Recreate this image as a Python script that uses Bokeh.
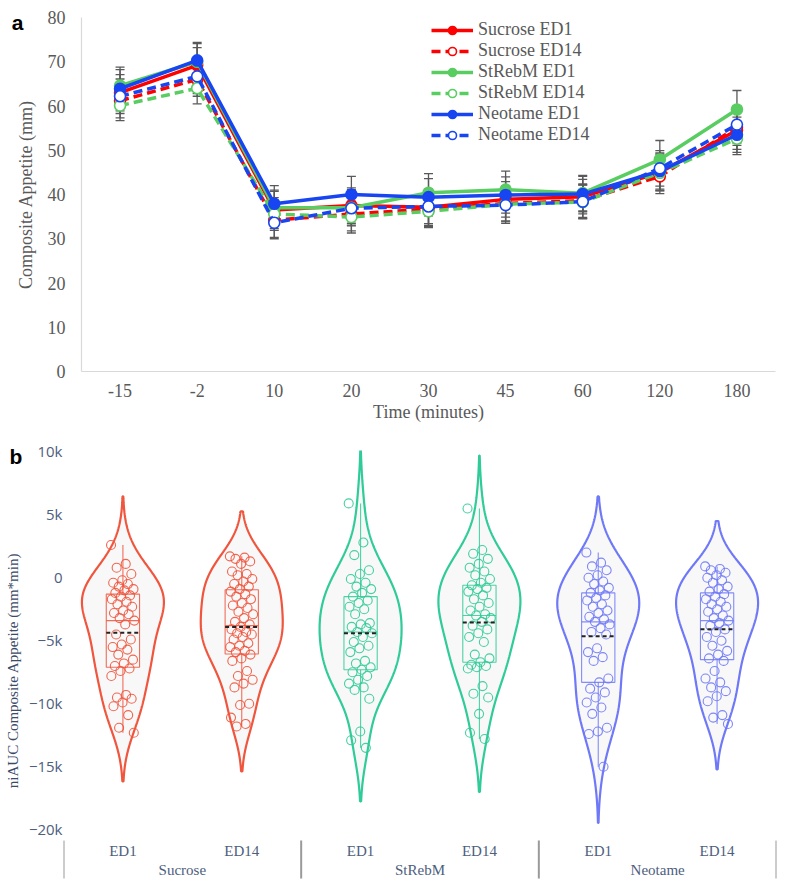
import numpy as np
from bokeh.plotting import figure
from bokeh.models import (ColumnDataSource, FactorRange, Range1d, FixedTicker,
                          Whisker, TeeHead, Legend, LegendItem, Label)
from bokeh.layouts import column
from bokeh.embed import file_html
from bokeh.resources import INLINE
from bokeh.core.properties import value

# ---------------- Panel a data ----------------
time_labels = ["-15", "-2", "10", "20", "30", "45", "60", "120", "180"]
series_names = ["Sucrose ED1", "Sucrose ED14", "StRebM ED1", "StRebM ED14",
                "Neotame ED1", "Neotame ED14"]
sucrose_ed1 = [63.0, 69.2, 36.5, 37.5, 37.1, 38.9, 39.5, 45.0, 54.5]
sucrose_ed14 = [61.2, 66.0, 34.2, 35.6, 36.7, 38.0, 38.6, 44.1, 55.2]
strebm_ed1 = [64.6, 70.0, 37.0, 37.0, 40.4, 41.1, 40.3, 47.9, 59.2]
strebm_ed14 = [60.1, 64.0, 35.6, 34.9, 36.2, 37.8, 38.3, 44.9, 52.6]
neotame_ed1 = [63.9, 70.3, 37.9, 40.0, 39.4, 39.9, 40.1, 45.3, 53.5]
neotame_ed14 = [62.2, 66.7, 33.6, 36.9, 37.3, 37.6, 38.4, 45.9, 55.8]
sucrose_ed1_se = [4.1, 4.0, 4.2, 4.0, 4.1, 4.0, 3.9, 4.2, 4.3]
sucrose_ed14_se = [3.9, 3.8, 3.9, 3.8, 3.9, 4.0, 3.8, 3.9, 4.1]
strebm_ed1_se = [4.2, 4.1, 4.0, 4.1, 4.3, 4.2, 4.0, 4.3, 4.3]
strebm_ed14_se = [3.4, 3.5, 3.7, 3.6, 3.7, 3.8, 3.8, 4.0, 3.6]
neotame_ed1_se = [4.3, 4.1, 4.1, 4.1, 4.2, 4.1, 4.0, 4.1, 4.0]
neotame_ed14_se = [3.9, 3.9, 3.6, 3.8, 3.9, 4.1, 3.8, 4.0, 4.2]
appetite_yticks = [0, 10, 20, 30, 40, 50, 60, 70, 80]

# ---------------- Panel b data (thousands of mm*min) ----------------
groups = ["Sucrose", "StRebM", "Neotame"]
days = ["ED1", "ED14"]
sucrose_ed1_auc = [2.5, 1.0, 0.7, 0.2, -0.3, -0.5, -0.6, -0.8, -1.0, -1.1, -1.3, -1.5,
                   -1.6, -1.8, -2.0, -2.2, -2.4, -2.7, -2.9, -3.0, -3.3, -3.5, -3.8,
                   -4.6, -5.0, -5.4, -5.6, -5.8, -6.2, -6.6, -6.9, -7.1, -7.3, -7.5,
                   -7.9, -9.4, -9.6, -9.7, -10.0, -10.3, -11.0, -12.0, -12.4]
sucrose_ed14_auc = [1.6, 1.5, 1.4, 1.2, 1.0, 0.4, 0.2, 0.1, -0.2, -0.4, -0.6, -0.8,
                    -1.0, -1.2, -1.4, -1.6, -1.8, -2.1, -2.3, -2.5, -2.8, -3.0, -3.3,
                    -3.6, -3.8, -4.0, -4.2, -4.4, -4.5, -4.6, -4.8, -5.0, -5.3, -5.5,
                    -5.6, -5.9, -6.0, -6.2, -6.5, -6.7, -7.5, -7.9, -8.2, -8.5, -8.8,
                    -10.1, -10.2, -11.2, -11.7, -11.9]
strebm_ed1_auc = [5.8, 2.7, 1.7, 0.5, 0.2, -0.2, -0.5, -0.8, -1.0, -1.3, -1.6, -1.9,
                  -2.1, -2.4, -2.6, -3.0, -3.7, -3.8, -4.0, -4.1, -4.4, -4.5, -4.8,
                  -5.2, -5.5, -5.7, -6.0, -6.7, -6.9, -7.2, -7.4, -7.6, -7.9, -8.2,
                  -8.5, -8.8, -9.0, -9.7, -12.3, -13.0, -13.6]
strebm_ed14_auc = [5.4, 2.1, 1.8, 1.4, 1.0, 0.7, 0.4, 0.1, -0.2, -0.5, -0.7, -0.9,
                   -1.0, -1.2, -1.5, -1.8, -2.1, -2.4, -2.7, -3.0, -3.1, -3.3, -3.6,
                   -3.9, -4.2, -4.5, -4.8, -5.2, -6.2, -6.5, -6.8, -7.0, -7.1, -7.2,
                   -7.3, -8.7, -9.3, -9.6, -10.9, -12.4, -12.9]
neotame_ed1_auc = [1.9, 1.1, 0.8, 0.5, 0.1, -0.1, -0.4, -0.6, -0.9, -1.1, -1.3, -1.5,
                   -1.7, -1.9, -2.2, -2.4, -2.7, -2.9, -3.2, -3.4, -3.6, -3.8, -4.1,
                   -4.4, -4.6, -5.7, -6.0, -6.4, -6.7, -8.1, -8.4, -8.9, -9.2, -9.6,
                   -10.0, -10.4, -10.9, -12.0, -12.3, -12.5, -15.1]
neotame_ed14_auc = [0.8, 0.6, 0.5, 0.3, 0.1, -0.1, -0.3, -0.5, -0.8, -1.0, -1.2, -1.4,
                    -1.6, -1.8, -2.0, -2.2, -2.4, -2.6, -2.8, -3.1, -3.3, -3.5, -3.7,
                    -3.9, -4.2, -4.4, -4.8, -5.1, -5.5, -5.9, -6.2, -6.5, -6.7, -7.5,
                    -8.1, -8.4, -8.8, -9.1, -9.5, -9.9, -11.0, -11.2, -11.7]
auc_yticks = [-20, -15, -10, -5, 0, 5, 10]
auc_ytick_labels = ["\u221220k", "\u221215k", "\u221210k", "\u22125k", "0", "5k", "10k"]

# ---------------- styles ----------------
SERIF = "Liberation Serif"
GREY = "#595959"
AXIS_LINE = "#d9d9d9"
line_colors = {"Sucrose": "#FF0000", "StRebM": "#5ACD62", "Neotame": "#1845F2"}
violin_colors = {"Sucrose": "#F0553D", "StRebM": "#2FCB98", "Neotame": "#6F79F7"}
AX_TXT = "#4d5e7e"


def no_frame_align(p):
    try:
        p.frame_align = False
    except Exception:
        pass


# ================= Panel a =================
p1 = figure(width=787, height=425,
            x_range=FactorRange(factors=time_labels, range_padding=0),
            y_range=Range1d(0, 80),
            output_backend="svg", toolbar_location=None,
            min_border_left=79, min_border_right=12, min_border_top=17,
            min_border_bottom=54)
no_frame_align(p1)
p1.outline_line_color = None
p1.xgrid.visible = False
p1.ygrid.visible = False

for ax in (p1.xaxis[0], p1.yaxis[0]):
    ax.axis_line_color = AXIS_LINE
    ax.axis_line_width = 1.2
    ax.major_tick_line_color = None
    ax.minor_tick_line_color = None
    ax.major_tick_out = 0
    ax.major_tick_in = 0
    ax.major_label_text_font = SERIF
    ax.major_label_text_font_size = "18px"
    ax.major_label_text_color = GREY
    ax.axis_label_text_font = SERIF
    ax.axis_label_text_font_size = "18px"
    ax.axis_label_text_font_style = "normal"
    ax.axis_label_text_color = GREY

p1.yaxis.ticker = FixedTicker(ticks=appetite_yticks)
p1.yaxis.major_label_standoff = 16
p1.yaxis.axis_label = "Composite Appetite (mm)"
p1.yaxis.axis_label_standoff = 9
p1.xaxis.major_label_standoff = 12
p1.xaxis.axis_label = "Time (minutes)"
p1.xaxis.axis_label_standoff = 2

all_vals = [sucrose_ed1, sucrose_ed14, strebm_ed1, strebm_ed14, neotame_ed1, neotame_ed14]
all_se = [sucrose_ed1_se, sucrose_ed14_se, strebm_ed1_se, strebm_ed14_se,
          neotame_ed1_se, neotame_ed14_se]

items = []
for name, vals, se in zip(series_names, all_vals, all_se):
    grp, day = name.split(" ")
    c = line_colors[grp]
    v = np.array(vals)
    e = np.array(se)
    src = ColumnDataSource(dict(t=time_labels, y=vals, upper=list(v + e), lower=list(v - e)))
    p1.add_layout(Whisker(source=src, base="t", upper="upper", lower="lower",
                          line_color=GREY, line_width=1.3, level="underlay",
                          upper_head=TeeHead(size=9, line_color=GREY, line_width=1.3),
                          lower_head=TeeHead(size=9, line_color=GREY, line_width=1.3)))
    dash = "solid" if day == "ED1" else "9 5"
    rl = p1.line("t", "y", source=src, line_color=c, line_width=3.5, line_dash=dash)
    rm = p1.scatter("t", "y", source=src, marker="circle", size=11,
                    fill_color=c if day == "ED1" else "white",
                    line_color=c, line_width=1.6)
    items.append(LegendItem(label=name, renderers=[rl, rm]))

legend = Legend(items=items, location=(350, 226), orientation="vertical",
                glyph_width=42, glyph_height=20, label_height=20, label_standoff=5,
                spacing=0, padding=0, margin=0, border_line_color=None,
                background_fill_alpha=0,
                label_text_font=SERIF, label_text_font_size="18px",
                label_text_color=GREY)
p1.add_layout(legend)
p1.add_layout(Label(x=-0.905, y=78.87, text="a",
                    text_font="Liberation Sans", text_font_style="bold",
                    text_font_size="21px", text_baseline="alphabetic",
                    text_color="black"), "left")

# ================= Panel b =================
factors = [(g, d) for g in groups for d in days]
p2 = figure(width=787, height=465,
            x_range=FactorRange(factors=factors, range_padding=0, group_padding=0,
                                factor_padding=0, subgroup_padding=0),
            y_range=Range1d(-24.92, 10.0), x_axis_location=None,
            output_backend="svg", toolbar_location=None,
            min_border_left=63, min_border_right=11, min_border_top=25,
            min_border_bottom=0)
no_frame_align(p2)
p2.outline_line_color = None
p2.xgrid.visible = False
p2.ygrid.visible = False

ya = p2.yaxis[0]
ya.ticker = FixedTicker(ticks=auc_yticks)
ya.major_label_overrides = dict(zip(auc_yticks, auc_ytick_labels))
ya.axis_line_color = None
ya.major_tick_line_color = None
ya.minor_tick_line_color = None
ya.major_tick_out = 0
ya.major_tick_in = 0
ya.major_label_standoff = 1
ya.major_label_text_font = "Open Sans"
ya.major_label_text_font_size = "15px"
ya.major_label_text_color = AX_TXT
ya.axis_label = "niAUC Composite Appetite (mm*min)"
ya.axis_label_text_font = SERIF
ya.axis_label_text_font_size = "15px"
ya.axis_label_text_font_style = "normal"
ya.axis_label_text_color = "#3a4a68"
ya.axis_label_standoff = 5

HALF_W = 0.345
BOX_HW = 0.14
JIT = 0.1
auc_series = [sucrose_ed1_auc, sucrose_ed14_auc, strebm_ed1_auc, strebm_ed14_auc,
              neotame_ed1_auc, neotame_ed14_auc]

for (g, d), vals in zip(factors, auc_series):
    c = violin_colors[g]
    v = np.asarray(vals, float)
    n = len(v)
    q1, med, q3 = np.percentile(v, [25, 50, 75])
    iqr = q3 - q1
    sd = v.std(ddof=1)
    bw = 1.059 * min(sd, iqr / 1.349) * n ** -0.2
    ys = np.linspace(v.min() - 2 * bw, v.max() + 2 * bw, 300)
    dens = np.exp(-0.5 * ((ys[:, None] - v[None, :]) / bw) ** 2).sum(axis=1)
    dens = dens / dens.max() * HALF_W
    xs = [(g, d, float(o)) for o in dens] + [(g, d, float(-o)) for o in dens[::-1]]
    yy = list(ys) + list(ys[::-1])
    p2.patch(x="x", y="y", source=ColumnDataSource(dict(x=xs, y=yy)),
             fill_color="#f8f8f8", line_color=c, line_width=2.2)
    lo_w = v[v >= q1 - 1.5 * iqr].min()
    hi_w = v[v <= q3 + 1.5 * iqr].max()
    p2.quad(left="l", right="r", bottom="b", top="t",
            source=ColumnDataSource(dict(l=[(g, d, -BOX_HW)], r=[(g, d, BOX_HW)],
                                         b=[q1], t=[q3])),
            fill_alpha=0, line_color=c, line_width=1.1, line_alpha=0.85)
    p2.segment(x0="x0", x1="x1", y0="y0", y1="y1",
               source=ColumnDataSource(dict(
                   x0=[(g, d, -BOX_HW), (g, d, 0.0), (g, d, 0.0)],
                   x1=[(g, d, BOX_HW), (g, d, 0.0), (g, d, 0.0)],
                   y0=[med, q3, q1], y1=[med, hi_w, lo_w])),
               line_color=c, line_width=1.1, line_alpha=0.85)
    jit = [((i * 0.6180339887) % 1.0 - 0.5) * 2 * JIT for i in range(n)]
    p2.scatter(x="x", y="y", source=ColumnDataSource(dict(
        x=[(g, d, float(j)) for j in jit], y=list(v))),
        marker="circle", size=9, fill_alpha=0, line_color=c, line_width=1.1,
        line_alpha=0.9)
    p2.segment(x0="x0", x1="x1", y0="y0", y1="y1",
               source=ColumnDataSource(dict(x0=[(g, d, -BOX_HW)], x1=[(g, d, BOX_HW)],
                                            y0=[v.mean()], y1=[v.mean()])),
               line_color="#222222", line_width=2, line_dash="4 3")

SUB_Y, GRP_Y, DIV_TOP, DIV_BOT = -21.75, -23.33, -20.95, -23.97
p2.text(x="x", y="y", text="t", source=ColumnDataSource(dict(
    x=factors, y=[SUB_Y] * len(factors), t=[d for _, d in factors])),
    text_font=value(SERIF), text_font_size="15px", text_color=AX_TXT,
    text_align="center", text_baseline="middle")
p2.text(x="x", y="y", text="t", source=ColumnDataSource(dict(
    x=[(g, days[0], 0.5) for g in groups], y=[GRP_Y] * len(groups), t=groups)),
    text_font=value(SERIF), text_font_size="15px", text_color=AX_TXT,
    text_align="center", text_baseline="middle")
div_x = [(g, days[0], -0.5) for g in groups] + [(groups[-1], days[-1], 0.5)]
p2.segment(x0="x", x1="x", y0="a", y1="b", source=ColumnDataSource(dict(
    x=div_x, a=[DIV_TOP] * len(div_x), b=[DIV_BOT] * len(div_x))),
    line_color="#9a9a9a", line_width=2)

p2.add_layout(Label(x=-0.454, y=9.52, text="b",
                    text_font="Liberation Sans", text_font_style="bold",
                    text_font_size="21px", text_baseline="alphabetic",
                    text_color="black"), "above")

layout = column(p1, p2, spacing=0)
open("out.html", "w").write(file_html(layout, INLINE))
